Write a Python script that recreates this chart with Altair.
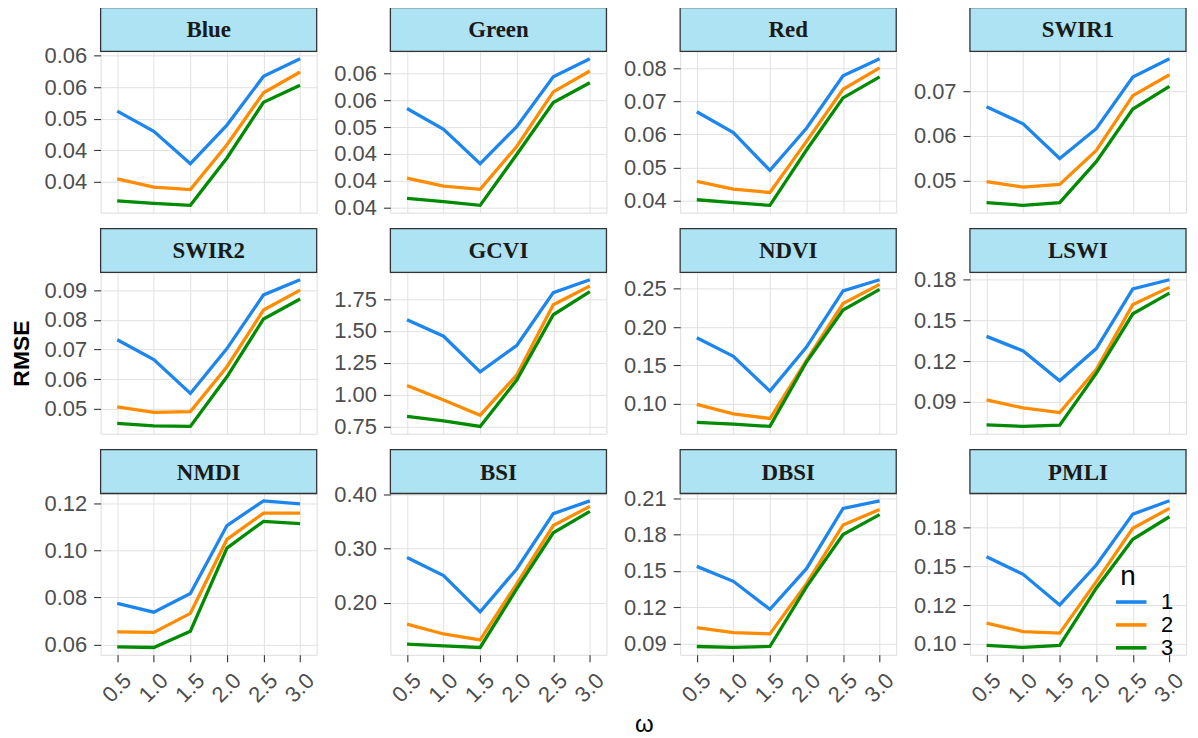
import json
import altair as alt
import pandas as pd

# ---------------- data ----------------
OMEGA = [0.5, 1.0, 1.5, 2.0, 2.5, 3.0]
N_LEVELS = ["1", "2", "3"]
COLORS = ["#1C86EE", "#FF8C00", "#008B00"]

PANELS = ["Blue", "Green", "Red", "SWIR1", "SWIR2", "GCVI",
          "NDVI", "LSWI", "NMDI", "BSI", "DBSI", "PMLI"]

# each panel: [n=1, n=2, n=3] RMSE at omega = 0.5 ... 3.0
BLUE = [[0.0512, 0.0480, 0.0429, 0.0490, 0.0567, 0.0595],
        [0.0405, 0.0392, 0.0388, 0.0459, 0.0541, 0.0574],
        [0.0370, 0.0366, 0.0363, 0.0438, 0.0526, 0.0553]]
GREEN = [[0.0535, 0.0496, 0.0432, 0.0501, 0.0594, 0.0628],
         [0.0405, 0.0390, 0.0384, 0.0464, 0.0566, 0.0605],
         [0.0367, 0.0361, 0.0354, 0.0449, 0.0546, 0.0583]]
RED = [[0.0669, 0.0606, 0.0491, 0.0619, 0.0778, 0.0830],
       [0.0458, 0.0434, 0.0424, 0.0579, 0.0737, 0.0802],
       [0.0402, 0.0393, 0.0385, 0.0553, 0.0711, 0.0775]]
SWIR1 = [[0.0665, 0.0627, 0.0549, 0.0616, 0.0732, 0.0773],
         [0.0497, 0.0485, 0.0491, 0.0567, 0.0690, 0.0737],
         [0.0450, 0.0444, 0.0450, 0.0542, 0.0660, 0.0711]]
SWIR2 = [[0.0733, 0.0666, 0.0552, 0.0703, 0.0884, 0.0935],
         [0.0507, 0.0488, 0.0491, 0.0642, 0.0833, 0.0900],
         [0.0451, 0.0443, 0.0441, 0.0608, 0.0803, 0.0870]]
GCVI = [[1.589, 1.459, 1.179, 1.386, 1.802, 1.903],
        [1.072, 0.958, 0.838, 1.153, 1.706, 1.854],
        [0.828, 0.794, 0.750, 1.114, 1.628, 1.810]]
NDVI = [[0.1860, 0.1619, 0.1167, 0.1739, 0.2470, 0.2616],
        [0.0995, 0.0870, 0.0810, 0.1567, 0.2307, 0.2556],
        [0.0759, 0.0737, 0.0707, 0.1546, 0.2221, 0.2491]]
LSWI = [[0.1383, 0.1276, 0.1056, 0.1293, 0.1732, 0.1800],
        [0.0915, 0.0856, 0.0822, 0.1139, 0.1617, 0.1744],
        [0.0732, 0.0720, 0.0729, 0.1110, 0.1549, 0.1702]]
NMDI = [[0.0774, 0.0737, 0.0816, 0.1105, 0.1210, 0.1197],
        [0.0653, 0.0651, 0.0732, 0.1046, 0.1158, 0.1158],
        [0.0590, 0.0587, 0.0656, 0.1009, 0.1123, 0.1113]]
BSI = [[0.2833, 0.2498, 0.1830, 0.2620, 0.3641, 0.3878],
       [0.1605, 0.1422, 0.1313, 0.2347, 0.3422, 0.3775],
       [0.1234, 0.1204, 0.1173, 0.2255, 0.3289, 0.3684]]
DBSI = [[0.1538, 0.1415, 0.1184, 0.1519, 0.2015, 0.2078],
        [0.1034, 0.0993, 0.0982, 0.1396, 0.1879, 0.2007],
        [0.0878, 0.0870, 0.0878, 0.1369, 0.1800, 0.1964]]
PMLI = [[0.1563, 0.1449, 0.1251, 0.1509, 0.1838, 0.1924],
        [0.1133, 0.1079, 0.1069, 0.1402, 0.1746, 0.1875],
        [0.0989, 0.0976, 0.0989, 0.1359, 0.1675, 0.1821]]

SERIES = [BLUE, GREEN, RED, SWIR1, SWIR2, GCVI, NDVI, LSWI, NMDI, BSI, DBSI, PMLI]

# y-axis tick values and the tick label text shown in each panel
Y_TICKS = [
    [0.040, 0.045, 0.050, 0.055, 0.060],
    [0.035, 0.040, 0.045, 0.050, 0.055, 0.060],
    [0.04, 0.05, 0.06, 0.07, 0.08],
    [0.05, 0.06, 0.07],
    [0.05, 0.06, 0.07, 0.08, 0.09],
    [0.75, 1.00, 1.25, 1.50, 1.75],
    [0.10, 0.15, 0.20, 0.25],
    [0.09, 0.12, 0.15, 0.18],
    [0.06, 0.08, 0.10, 0.12],
    [0.2, 0.3, 0.4],
    [0.09, 0.12, 0.15, 0.18, 0.21],
    [0.100, 0.125, 0.150, 0.175],
]
Y_LABELS = [
    ["0.04", "0.04", "0.05", "0.06", "0.06"],
    ["0.04", "0.04", "0.04", "0.05", "0.06", "0.06"],
    ["0.04", "0.05", "0.06", "0.07", "0.08"],
    ["0.05", "0.06", "0.07"],
    ["0.05", "0.06", "0.07", "0.08", "0.09"],
    ["0.75", "1.00", "1.25", "1.50", "1.75"],
    ["0.10", "0.15", "0.20", "0.25"],
    ["0.09", "0.12", "0.15", "0.18"],
    ["0.06", "0.08", "0.10", "0.12"],
    ["0.20", "0.30", "0.40"],
    ["0.09", "0.12", "0.15", "0.18", "0.21"],
    ["0.10", "0.12", "0.15", "0.18"],
]

# ---------------- styling ----------------
W, H = 217, 162
HEADER_H = 44
STRIP_FILL = "#ADE3F2"
BORDER = "#333333"
GRID = "#E1E1E1"
LABEL_COLOR = "#4D4D4D"
SANS = "Liberation Sans"
SERIF = "Liberation Serif"

X_PAD = 0.2273  # horizontal expansion of the x range on each side


def make_panel(idx):
    name = PANELS[idx]
    series = SERIES[idx]
    rows = []
    for k, s in enumerate(series):
        for o, v in zip(OMEGA, s):
            rows.append({"omega": o, "rmse": v, "n": N_LEVELS[k]})
    df = pd.DataFrame(rows)
    lo, hi = df["rmse"].min(), df["rmse"].max()
    pad = 0.05 * (hi - lo)

    bottom = idx >= 8
    if bottom:
        xaxis = alt.Axis(values=OMEGA, format=".1f", labelAngle=-45,
                         labelAlign="right", labelBaseline="top",
                         labelFontSize=22, labelColor=LABEL_COLOR, labelFont=SANS,
                         labelPadding=8, labelOffset=3,
                         ticks=True, tickSize=7, tickColor=BORDER,
                         tickWidth=1.1, domain=False, grid=True, gridColor=GRID,
                         labelOverlap=False,
                         title="ω" if name == "BSI" else None,
                         titleFont=SANS, titleFontSize=24, titleFontWeight="normal",
                         titleColor="#000000", titleX=254.5, titleY=70,
                         titleAlign="center", titleBaseline="middle")
    else:
        xaxis = alt.Axis(values=OMEGA, labels=False, ticks=False, domain=False,
                         grid=True, gridColor=GRID, title=None)

    label_expr = "{}[indexof({}, datum.value)]".format(
        json.dumps(Y_LABELS[idx]).replace('"', "'"), json.dumps(Y_TICKS[idx]))
    yaxis = alt.Axis(values=Y_TICKS[idx], labelExpr=label_expr,
                     labelFontSize=22, labelColor=LABEL_COLOR, labelFont=SANS,
                     labelPadding=7, ticks=True, tickSize=7, tickColor=BORDER,
                     tickWidth=1.1, domain=False, grid=True, gridColor=GRID,
                     labelOverlap=False,
                     title="RMSE" if name == "SWIR2" else None,
                     titleFont=SANS, titleFontSize=23, titleFontWeight="bold",
                     titleColor="#000000", titleX=-79, titleY=H / 2,
                     titleAngle=-90, titleAlign="center", titleBaseline="middle")

    if name == "PMLI":
        legend = alt.Legend(orient="none", legendX=151, legendY=70,
                            title="n", titleFont=SANS, titleFontSize=28,
                            titleFontWeight="normal", titleColor="#000000",
                            titlePadding=0, labelFont=SANS, labelFontSize=22,
                            labelColor="#000000", labelOffset=19,
                            symbolType="M-1.7,0L1.7,0", symbolSize=324,
                            symbolStrokeWidth=3.6, rowPadding=1, padding=0)
    else:
        legend = None

    lines = alt.Chart(df).mark_line(strokeWidth=3.3).encode(
        x=alt.X("omega:Q", axis=xaxis,
                scale=alt.Scale(domain=[OMEGA[0] - X_PAD, OMEGA[-1] + X_PAD],
                                nice=False, zero=False)),
        y=alt.Y("rmse:Q", axis=yaxis,
                scale=alt.Scale(domain=[lo - pad, hi + pad], nice=False, zero=False)),
        color=alt.Color("n:N", legend=legend,
                        scale=alt.Scale(domain=N_LEVELS, range=COLORS)),
    )

    strip_df = pd.DataFrame({"label": [name]})
    strip = alt.Chart(strip_df).mark_rect(
        fill=STRIP_FILL, stroke=BORDER, strokeWidth=1.3
    ).encode(x=alt.value(0), x2=alt.value(W),
             y=alt.value(-HEADER_H), y2=alt.value(0))
    strip_text = alt.Chart(strip_df).mark_text(
        font=SERIF, fontWeight="bold", fontSize=23, color="#1A1A1A",
        baseline="middle", align="center"
    ).encode(x=alt.value(W / 2), y=alt.value(-HEADER_H / 2 + 1), text="label:N")

    return alt.layer(lines, strip, strip_text).properties(width=W, height=H)


panels = [make_panel(i) for i in range(len(PANELS))]

chart = alt.concat(
    *panels, columns=4, spacing={"row": 60, "column": 74}, bounds="flush"
).resolve_scale(
    x="independent", y="independent", color="independent"
).resolve_legend(
    color="independent"
).properties(
    padding={"left": 2, "top": -4, "right": 2, "bottom": 0}
).configure_view(
    stroke=BORDER, strokeWidth=1.3
).configure(
    background="white"
)

chart.save("out.html", embed_options={"renderer": "svg", "actions": False})
